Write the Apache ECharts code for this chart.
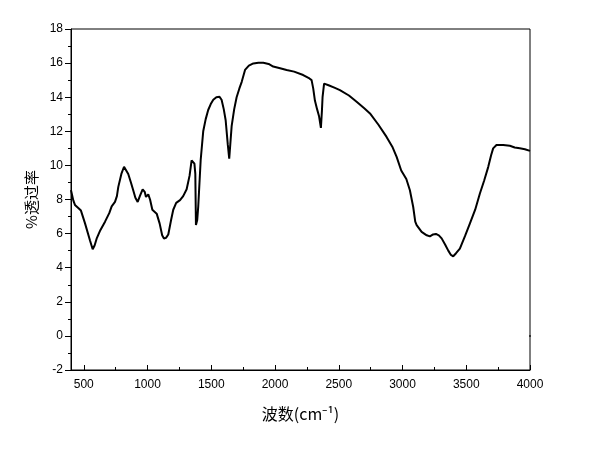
<!DOCTYPE html>
<html>
<head>
<meta charset="utf-8">
<script src="https://cdn.jsdelivr.net/npm/echarts@6.0.0/dist/echarts.min.js"></script>
<style>
  html, body { margin: 0; padding: 0; background: #fff; }
  #chart { width: 593px; height: 451px; }
</style>
</head>
<body>
<div id="chart"></div>
<script>
// IR spectrum
const wavenumber = [
  400, 418, 431, 457, 478, 510, 549, 570, 585, 601, 630, 667, 700, 719, 745, 760, 771, 795, 816, 830,
  849, 870, 888, 905, 923, 940, 962, 978, 988, 1006, 1020, 1038, 1072, 1095, 1115, 1129, 1145, 1163, 1185, 1202,
  1225, 1255, 1280, 1307, 1330, 1346, 1358, 1368, 1375, 1380, 1390, 1398, 1417, 1437, 1456, 1476, 1496, 1516, 1540, 1565,
  1581, 1598, 1613, 1630, 1641, 1650, 1660, 1680, 1699, 1720, 1739, 1765, 1795, 1830, 1870, 1908, 1950, 1986, 2040, 2091,
  2150, 2221, 2270, 2287, 2300, 2313, 2330, 2345, 2360, 2368, 2373, 2385, 2420, 2470, 2509, 2580, 2640, 2700, 2745, 2810,
  2875, 2920, 2954, 2990, 3030, 3058, 3084, 3100, 3111, 3150, 3190, 3215, 3240, 3262, 3285, 3307, 3335, 3359, 3380, 3398,
  3420, 3450, 3490, 3529, 3570, 3607, 3640, 3672, 3695, 3711, 3737, 3790, 3842, 3880, 3920, 3960, 4000
];
const transmittance = [
  8.55, 7.95, 7.68, 7.5, 7.35, 6.6, 5.6, 5.08, 5.3, 5.7, 6.2, 6.7, 7.2, 7.6, 7.86, 8.2, 8.74, 9.5, 9.92, 9.85,
  9.5, 9.0, 8.54, 8.1, 7.86, 8.2, 8.6, 8.45, 8.15, 8.3, 8.0, 7.4, 7.17, 6.6, 5.9, 5.71, 5.75, 5.95, 6.8, 7.4,
  7.8, 7.96, 8.2, 8.6, 9.4, 10.3, 10.4, 10.1, 9.5, 6.5, 6.8, 7.6, 10.3, 12.0, 12.7, 13.25, 13.6, 13.85, 14.0, 14.02,
  13.85, 13.3, 12.65, 11.2, 10.4, 11.3, 12.3, 13.3, 14.0, 14.5, 14.9, 15.6, 15.85, 15.98, 16.02, 16.02, 15.95, 15.8, 15.7, 15.6,
  15.5, 15.3, 15.1, 15.0, 14.5, 13.8, 13.3, 12.9, 12.2, 13.2, 14.0, 14.8, 14.7, 14.55, 14.42, 14.1, 13.73, 13.35, 13.05, 12.4,
  11.67, 11.1, 10.5, 9.7, 9.2, 8.54, 7.56, 6.7, 6.5, 6.1, 5.9, 5.84, 5.95, 5.98, 5.9, 5.72, 5.35, 5.0, 4.75, 4.67,
  4.85, 5.12, 5.85, 6.6, 7.4, 8.35, 9.1, 9.9, 10.6, 11.0, 11.2, 11.2, 11.15, 11.05, 11.0, 10.95, 10.85
];
// stray point at the right edge
const strayPoint = [[4000, 0]];

const xMajorTicks = [500, 1000, 1500, 2000, 2500, 3000, 3500, 4000];
const xMinorTicks = [750, 1250, 1750, 2250, 2750, 3250, 3750];

const chart = echarts.init(document.getElementById('chart'));
const labelFont = { color: '#000', fontSize: 12, fontFamily: 'Liberation Sans' };

let option = {
  animation: false,
  backgroundColor: '#fff',
  grid: {
    left: 71, right: 63, top: 29, bottom: 81,
    show: true,
    borderColor: '#000',
    borderWidth: 1
  },
  xAxis: [{
    type: 'value',
    min: 400,
    max: 4000,
    name: '波数(cm⁻¹)',
    nameLocation: 'middle',
    nameGap: 36,
    nameTextStyle: { color: '#000', fontSize: 16, fontFamily: 'Noto Sans CJK SC' },
    axisLine: { onZero: false, lineStyle: { color: '#000', width: 1 } },
    axisTick: { inside: true, length: 5, lineStyle: { color: '#000' }, customValues: xMajorTicks },
    axisLabel: Object.assign({ margin: 9, customValues: xMajorTicks, formatter: v => String(v) }, labelFont),
    splitLine: { show: false }
  }, {
    type: 'value',
    min: 400,
    max: 4000,
    position: 'bottom',
    axisLine: { show: false, onZero: false },
    axisTick: { inside: true, length: 3, lineStyle: { color: '#000' }, customValues: xMinorTicks },
    axisLabel: { show: false },
    splitLine: { show: false }
  }],
  yAxis: {
    type: 'value',
    min: -2,
    max: 18,
    interval: 2,
    name: '%透过率',
    nameLocation: 'middle',
    nameGap: 32,
    nameTextStyle: { color: '#000', fontSize: 15, fontFamily: 'Noto Sans CJK SC' },
    axisLine: { show: true, onZero: false, lineStyle: { color: '#000', width: 1 } },
    axisTick: { inside: false, length: 6, lineStyle: { color: '#000' } },
    minorTick: { show: true, splitNumber: 2, length: 3, lineStyle: { color: '#000' } },
    axisLabel: Object.assign({ margin: 8 }, labelFont),
    splitLine: { show: false }
  },
  series: [{
    name: 'spectrum',
    type: 'line',
    data: wavenumber.map((w, i) => [w, transmittance[i]]),
    showSymbol: false,
    smooth: false,
    lineStyle: { color: '#000', width: 2 }
  }, {
    name: 'stray',
    type: 'scatter',
    data: strayPoint,
    symbolSize: 2,
    itemStyle: { color: '#000' }
  }]
};
chart.setOption(option);
</script>
</body>
</html>
